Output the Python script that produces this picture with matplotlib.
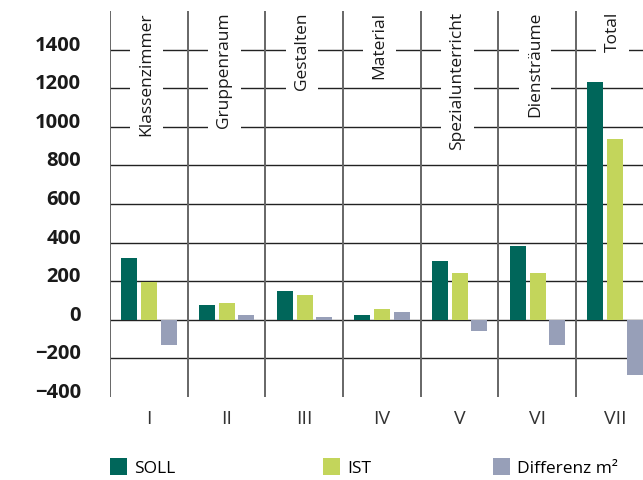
import matplotlib.pyplot as plt
import numpy as np

plt.rcParams['font.family'] = ['Open Sans', 'DejaVu Sans']

# data
groups = ['I', 'II', 'III', 'IV', 'V', 'VI', 'VII']
rooms = ['Klassenzimmer', 'Gruppenraum', 'Gestalten', 'Material',
         'Spezialunterricht', 'Diensträume', 'Total']
soll = [319, 76, 148, 24, 303, 381, 1234]
ist = [196, 88, 128, 55, 241, 241, 939]
diff = [-131, 24, 14, 40, -57, -131, -284]

c_soll = '#00665a'
c_ist = '#c3d55b'
c_diff = '#979fb8'

fig = plt.figure(figsize=(6.43, 4.81), dpi=100)
ax = fig.add_axes([110 / 643, 83 / 481, 543.7 / 643, 386 / 481])

x = np.arange(len(groups))
w = 0.205
b1 = ax.bar(x + 0.25, soll, w, color=c_soll, zorder=3)
b2 = ax.bar(x + 0.505, ist, w, color=c_ist, zorder=3)
b3 = ax.bar(x + 0.755, diff, w, color=c_diff, zorder=3)

ax.set_xlim(0, 7)
ax.set_ylim(-400, 1600)

# grid
for v in range(-200, 1401, 200):
    ax.axhline(v, color='#222222', lw=1.0, zorder=1)
for v in range(0, 8):
    ax.axvline(v, color='#666666', lw=1.4, zorder=1)

for s in ax.spines.values():
    s.set_visible(False)

yt = list(range(-400, 1401, 200))
ax.set_yticks(yt)
ax.set_yticklabels([str(v).replace('-', '\u2212') for v in yt],
                   fontsize=14.5, fontweight='bold', color='#1a1a1a',
                   va='baseline')
ax.tick_params(axis='y', length=0, pad=21)

ax.set_xticks(x + 0.5)
ax.set_xticklabels(groups, fontsize=14, color='#333333')
ax.tick_params(axis='x', length=0, pad=9)

for i, r in enumerate(rooms):
    ax.text(i + 0.47, 1600, r, rotation=90, ha='center', va='top',
            fontsize=12.5, color='#1a1a1a', zorder=2,
            bbox=dict(fc='white', ec='none', pad=6))

# legend, one entry per position
for h, lab, xp in [(b1, 'SOLL', 110), (b2, 'IST', 323), (b3, 'Differenz m²', 493)]:
    fig.legend(handles=[h], labels=[lab], loc='center left',
               bbox_to_anchor=(xp / 643, 1 - 468 / 481), frameon=False,
               handlelength=1.0, handleheight=1.1, handletextpad=0.4,
               borderpad=0, borderaxespad=0, fontsize=12.5)

fig.savefig('out.png', dpi=100)
